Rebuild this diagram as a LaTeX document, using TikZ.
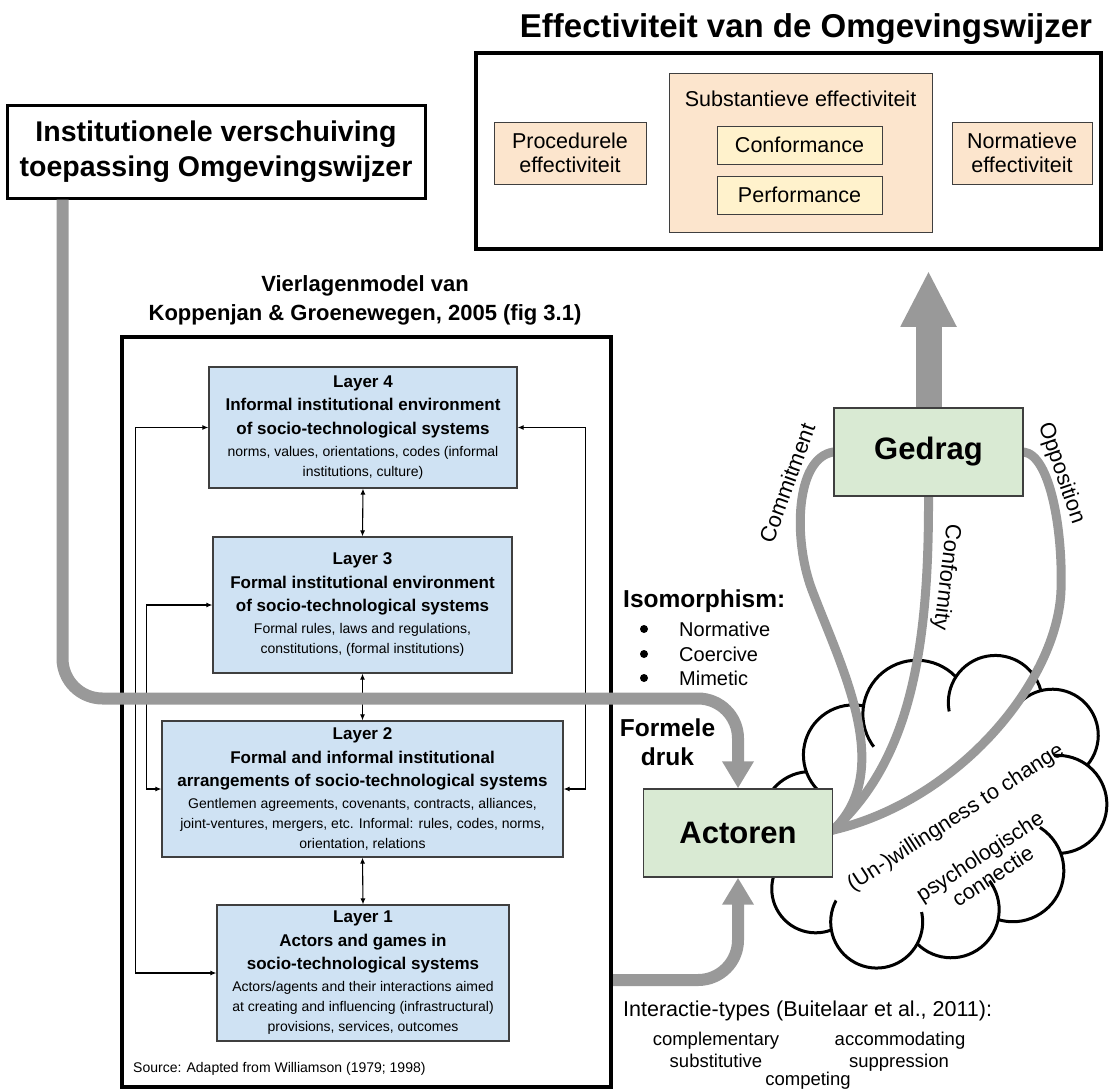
\documentclass[tikz,border=0pt]{standalone}
\usepackage{fontspec}
\setmainfont{Liberation Sans}
\usetikzlibrary{arrows.meta}

\definecolor{flowgray}{HTML}{999999}
\definecolor{layerblue}{HTML}{CFE2F3}
\definecolor{agentgreen}{HTML}{D9EAD3}
\definecolor{peach}{HTML}{FCE5CD}
\definecolor{cream}{HTML}{FFF2CC}
\definecolor{edgegray}{HTML}{3F3F3F}

\newcommand\fTitle{\fontsize{33}{39}\selectfont\bfseries}
\newcommand\fInst{\fontsize{28.5}{35}\selectfont\bfseries}
\newcommand\fVier{\fontsize{22}{29}\selectfont\bfseries}
\newcommand\fEff{\fontsize{21.5}{24}\selectfont}
\newcommand\fLb{\fontsize{17}{23.5}\selectfont\bfseries}
\newcommand\fLr{\fontsize{14}{20}\selectfont\mdseries}
\newcommand\fBig{\fontsize{31}{37}\selectfont\bfseries}
\newcommand\fMid{\fontsize{24.5}{29}\selectfont\bfseries}
\newcommand\fList{\fontsize{20}{24}\selectfont}
\newcommand\fLab{\fontsize{22}{26}\selectfont}
\newcommand\fCloud{\fontsize{21.5}{24}\selectfont}
\newcommand\fInt{\fontsize{21.5}{26}\selectfont}
\newcommand\fIntS{\fontsize{18.5}{22}\selectfont}
\newcommand\fSrc{\fontsize{14}{17}\selectfont}

\pgfdeclarelayer{cloudlayer}
\pgfdeclarelayer{bondlayer}
\pgfsetlayers{cloudlayer,bondlayer,main}

\begin{document}
\begin{tikzpicture}[x=1pt,y=-1pt,
  heavyframe/.style={draw=black, line width=3.5pt, inner sep=0pt},
  layerbox/.style={draw=edgegray, line width=1.2pt, fill=layerblue, align=center, inner sep=0pt, font=\fLb},
  agentbox/.style={draw=edgegray, line width=1.4pt, fill=agentgreen, inner sep=0pt, font=\fBig,
    minimum width=189pt, minimum height=88pt},
  effbox/.style={draw=edgegray, line width=1pt, fill=peach, inner sep=0pt, align=center, font=\fEff},
  subbox/.style={draw=edgegray, line width=1pt, fill=cream, inner sep=0pt, font=\fEff,
    minimum width=165pt, minimum height=38pt},
  layerlink/.style={line width=1.1pt, {Latex[length=6pt,width=5pt]}-{Latex[length=6pt,width=5pt]}},
  flow/.style={draw=flowgray, line width=12pt, rounded corners=40pt, -{Triangle[width=30pt,length=27pt]}},
  bond/.style={draw=flowgray, line width=9pt, line cap=round},
  cloudline/.style={draw=black, line width=3pt, fill=white},
  plain/.style={inner sep=0pt}
]
\useasboundingbox (0,0) rectangle (1110,1090);

% ---------- effectiveness block ----------
\node[plain, font=\fTitle] (title) at (806,29) {Effectiviteit van de Omgevingswijzer};
\node[heavyframe, minimum width=625pt, minimum height=196pt] (effframe) at (788.5,151) {};
\node[effbox, minimum width=152pt, minimum height=62pt] (proc) at (570,153) {Procedurele\\effectiviteit};
\node[effbox, minimum width=263pt, minimum height=159pt] (subst) at (800.5,152.5) {};
\node[plain, font=\fEff] (substtitle) at (800.5,99) {Substantieve effectiviteit};
\node[subbox] (conf) at (799.5,145) {Conformance};
\node[subbox] (perf) at (799.5,195) {Performance};
\node[effbox, minimum width=140pt, minimum height=62pt] (norm) at (1022,153) {Normatieve\\effectiviteit};

% ---------- institutional shift ----------
\node[heavyframe, line width=3pt, fill=white, minimum width=418pt, minimum height=93pt,
      align=center, font=\fInst] (inst) at (216,151.5)
      {Institutionele verschuiving\\toepassing Omgevingswijzer};

% ---------- four-layer model ----------
\node[plain, font=\fVier, align=center] (vier) at (365,300)
  {Vierlagenmodel van\\Koppenjan \& Groenewegen, 2005 (fig 3.1)};
\node[heavyframe, line width=4pt, minimum width=489pt, minimum height=750pt] (lm) at (366.5,712) {};

\node[layerbox, minimum width=308pt, minimum height=121pt] (L4) at (363,427.5)
  {Layer 4\\Informal institutional environment\\of socio-technological systems\\[-1.5pt]
   \fLr norms, values, orientations, codes (informal\\[-3.5pt]\fLr institutions, culture)};
\node[layerbox, minimum width=299pt, minimum height=136pt] (L3) at (362.5,605)
  {Layer 3\\Formal institutional environment\\of socio-technological systems\\[-1.5pt]
   \fLr Formal rules, laws and regulations,\\[-3.5pt]\fLr constitutions, (formal institutions)};
\node[layerbox, minimum width=401pt, minimum height=136pt] (L2) at (362.5,789)
  {Layer 2\\Formal and informal institutional\\arrangements of socio-technological systems\\[-1.5pt]
   \fLr Gentlemen agreements, covenants, contracts, alliances,\\[-3.5pt]
   \fLr joint-ventures, mergers, etc. Informal: rules, codes, norms,\\[-3.5pt]\fLr orientation, relations};
\node[layerbox, minimum width=292pt, minimum height=136pt] (L1) at (363,973)
  {Layer 1\\Actors and games in\\socio-technological systems\\[-1.5pt]
   \fLr Actors/agents and their interactions aimed\\[-3.5pt]
   \fLr at creating and influencing (infrastructural)\\[-3.5pt]\fLr provisions, services, outcomes};

\draw[layerlink] (L4.south) -- (L3.north);
\draw[layerlink] (L3.south) -- (L2.north);
\draw[layerlink] (L2.south) -- (L1.north);
\draw[layerlink] (L1.west) -- ++(-81,0) |- (L4.west);
\draw[layerlink] (L3.west) -- ++(-66,0) |- (L2.west);
\draw[layerlink] (L4.east) -- ++(68,0) |- (L2.east);

\node[plain, font=\fSrc, anchor=west] (source) at (133,1069) {Source: Adapted from Williamson (1979; 1998)};

% ---------- actors and behaviour ----------
\node[agentbox] (actoren) at (738,833) {Actoren};
\node[agentbox] (gedrag) at (928.5,452) {Gedrag};
\coordinate (meet) at ([yshift=3pt]actoren.east);

% psychological connection cloud: overlapping puffs, later puffs leave a short
% inner curl over the previous one, the centre is then blanked out
\begin{pgfonlayer}{cloudlayer}
\begin{scope}[shift={(934,812)}, rotate=33]
  \foreach \t/\r in {180/44, 220/48, 255/50, 286/54, 322/47, 360/46, 400/49, 436/51, 466/48, 500/46}
    \path[cloudline] ({141*cos(\t)},{95*sin(\t)}) circle[radius=\r];
  \fill[white] (0,0) ellipse[x radius=134, y radius=88];
\end{scope}
\end{pgfonlayer}

% behavioural responses
\begin{pgfonlayer}{bondlayer}
\draw[bond] (gedrag.west) .. controls (795,458) and (793,540) .. (812,590)
                          .. controls (842,669) and (895,770) .. (meet);
\draw[bond] (gedrag.south) .. controls (929,650) and (910,760) .. (meet);
\draw[bond] (gedrag.east) .. controls (1050,455) and (1063,530) .. (1061,590)
                          .. controls (1058,680) and (960,800) .. (meet);
\end{pgfonlayer}

\node[plain, font=\fLab, rotate=70] (commit) at (787,483) {Commitment};
\node[plain, font=\fLab, rotate=-97] (conform) at (946,577) {Conformity};
\node[plain, font=\fLab, rotate=-71] (oppos) at (1061,473) {Opposition};

\node[plain, font=\fCloud, rotate=33] (willing) at (956,818) {(Un-)willingness to change};
\node[plain, font=\fCloud, rotate=33, align=center] (psych) at (986,866) {psychologische\\connectie};

% isomorphism list
\node[plain, font=\fMid, anchor=west] (iso) at (623,601) {Isomorphism:};
\foreach \y/\w/\n in {629/Normative/isoA, 654/Coercive/isoB, 678/Mimetic/isoC} {
  \fill (644,\y) circle[radius=4];
  \node[plain, font=\fList, anchor=west] (\n) at (679,\y) {\w};
}

\node[plain, font=\fMid, align=center] (druk) at (667.5,742.5) {Formele\\druk};

% interaction types
\node[plain, font=\fInt, anchor=west] (inter) at (623,1011) {Interactie-types (Buitelaar et al., 2011):};
\node[plain, font=\fIntS, anchor=base] (compl) at (716,1045) {complementary};
\node[plain, font=\fIntS, anchor=base] (accom) at (900,1045) {accommodating};
\node[plain, font=\fIntS, anchor=base] (subst2) at (716,1067) {substitutive};
\node[plain, font=\fIntS, anchor=base] (suppr) at (899,1067) {suppression};
\node[plain, font=\fIntS, anchor=base] (compe) at (808,1085) {competing};

% ---------- main flows ----------
\draw[flow] ([xshift=57pt]inst.south west) -- ++(0,499) -| (actoren.north);
\draw[flow] (lm.east |- 0,980) -| (actoren.south);
\draw[draw=flowgray, line width=26pt, shorten >=20pt, -{Triangle[width=52pt,length=56pt]}]
  (gedrag.north) -- (gedrag.north |- effframe.south);

\end{tikzpicture}
\end{document}
